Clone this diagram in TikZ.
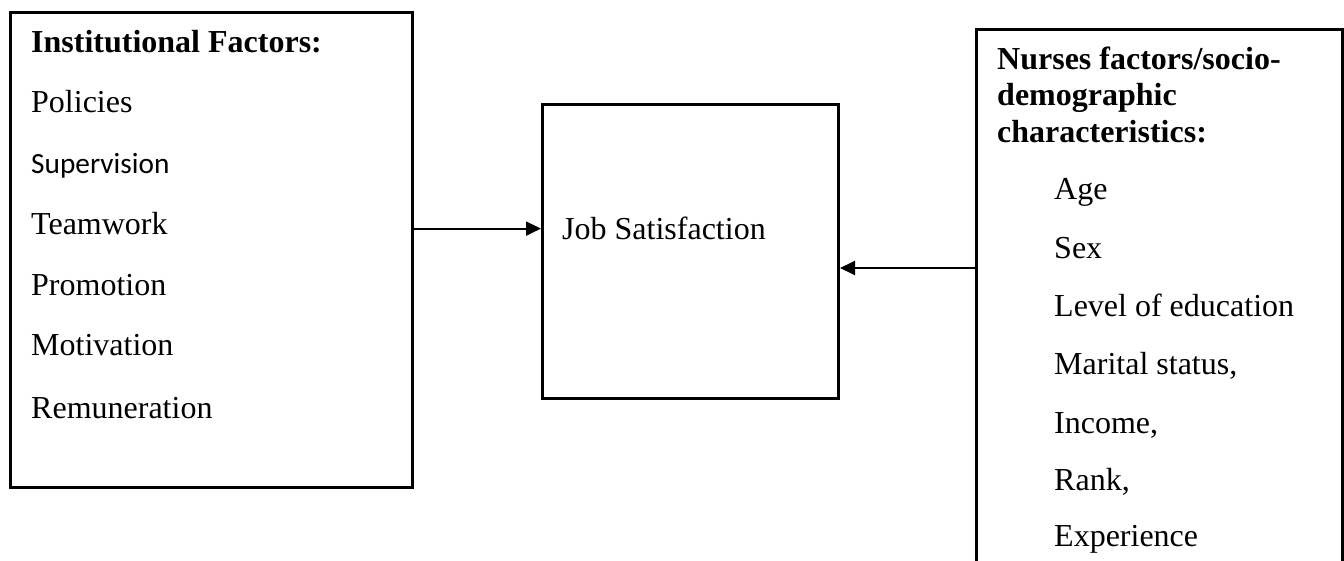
\documentclass[tikz,border=0pt]{standalone}
\usepackage{fontspec}
\setmainfont{Liberation Serif}
\newfontfamily\calfont{Carlito}
\usetikzlibrary{arrows.meta}
\tikzset{
  boxstyle/.style={draw=black, line width=3pt, rectangle, inner sep=0pt, anchor=north west},
  txt/.style={anchor=base west, inner sep=0pt, font=\fontsize{32}{38}\selectfont},
  hdr/.style={anchor=base west, inner sep=0pt, font=\fontsize{32}{38}\selectfont\bfseries},
  arr/.style={line width=2pt, -{Triangle[length=15pt,width=14pt]}},
}
\begin{document}
\begin{tikzpicture}[x=1pt,y=-1pt]
\useasboundingbox (0,0) rectangle (1344,560);
\begin{scope}
\clip (0,0) rectangle (1344,560);
\node[boxstyle, minimum width=402.5pt, minimum height=475.3pt] (inst) at (8.5,10.7) {};
\node[boxstyle, minimum width=296pt, minimum height=294pt] (job) at (541,103) {};
\node[boxstyle, minimum width=366pt, minimum height=600pt] (nurse) at (975,27.5) {};
\end{scope}
% left box texts
\node[hdr] (ih) at (31,52) {Institutional Factors:};
\node[txt] (i1) at (31,112) {Policies};
\node[txt, font=\calfont\fontsize{29.3}{35}\selectfont] (i2) at (31,173) {Supervision};
\node[txt] (i3) at (31,234) {Teamwork};
\node[txt] (i4) at (31,295) {Promotion};
\node[txt] (i5) at (31,355) {Motivation};
\node[txt] (i6) at (31,418) {Remuneration};
% middle
\node[txt] (jt) at (562,239) {Job Satisfaction};
% right box texts
\node[hdr] (nh1) at (997,69) {Nurses factors/socio-};
\node[hdr] (nh2) at (997,105.5) {demographic};
\node[hdr] (nh3) at (997,142) {characteristics:};
\node[txt] (n1) at (1054,199) {Age};
\node[txt] (n2) at (1054,258) {Sex};
\node[txt] (n3) at (1054,316) {Level of education};
\node[txt] (n4) at (1054,374) {Marital status,};
\node[txt] (n5) at (1054,433) {Income,};
\node[txt] (n6) at (1054,490) {Rank,};
\node[txt] (n7) at (1054,546) {Experience};
% connectors
\coordinate (a1) at (0,228.6);
\coordinate (a2) at (0,268);
\draw[arr] (inst.east |- a1) -- (job.west |- a1);
\draw[arr] (nurse.west |- a2) -- (job.east |- a2);
\end{tikzpicture}
\end{document}
